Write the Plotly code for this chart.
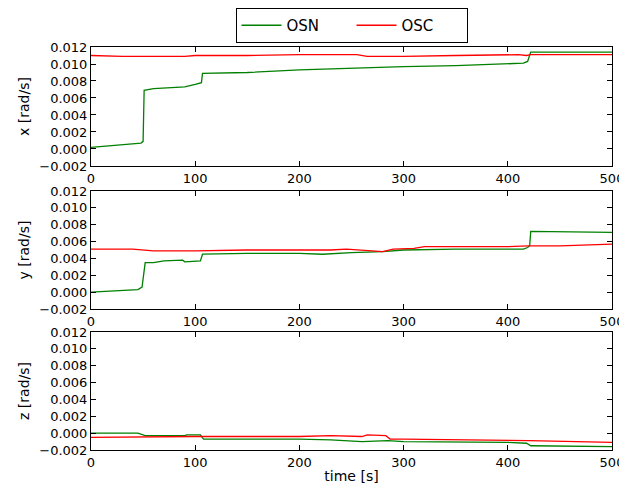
import plotly.graph_objects as go

# ---- data ----
t_osn_x = [0, 10, 30, 48, 50, 51, 60, 80, 90, 100, 104, 106, 107, 150, 200, 250, 300, 350, 400, 415, 419, 421, 422, 460, 500]
v_osn_x = [0.0002, 0.0003, 0.0005, 0.0007, 0.0009, 0.0069, 0.0071, 0.0072, 0.0073, 0.0076, 0.0077, 0.0078, 0.0089, 0.0090, 0.0093, 0.0095, 0.0097, 0.0098, 0.0100, 0.0101, 0.0103, 0.0111, 0.0114, 0.0114, 0.0114]
t_osc_x = [0, 30, 60, 90, 100, 150, 200, 255, 265, 300, 350, 410, 418, 422, 500]
v_osc_x = [0.0110, 0.0109, 0.0109, 0.0109, 0.0110, 0.0110, 0.0111, 0.0111, 0.0109, 0.0109, 0.0110, 0.0111, 0.0110, 0.0111, 0.0111]

t_osn_y = [0, 20, 45, 49, 51, 52, 60, 70, 88, 90, 105, 106, 107, 150, 200, 222, 250, 280, 300, 350, 415, 419, 421, 422, 500]
v_osn_y = [0.0000, 0.0001, 0.0003, 0.0006, 0.0030, 0.0035, 0.0035, 0.0037, 0.0038, 0.0036, 0.0037, 0.0042, 0.0045, 0.0046, 0.0046, 0.0045, 0.0047, 0.0048, 0.0050, 0.0051, 0.0051, 0.0053, 0.0055, 0.0072, 0.0071]
t_osc_y = [0, 40, 60, 100, 150, 200, 230, 245, 260, 270, 280, 290, 310, 320, 400, 420, 450, 500]
v_osc_y = [0.0051, 0.0051, 0.0049, 0.0049, 0.0050, 0.0050, 0.0050, 0.0051, 0.0050, 0.0049, 0.0048, 0.0051, 0.0052, 0.0054, 0.0054, 0.0055, 0.0055, 0.0057]

t_osn_z = [0, 45, 52, 90, 92, 105, 108, 200, 230, 260, 285, 300, 400, 418, 422, 500]
v_osn_z = [0.0000, 0.0000, -0.0003, -0.0003, -0.0002, -0.0002, -0.0007, -0.0007, -0.0008, -0.0010, -0.0009, -0.0010, -0.0011, -0.0012, -0.0015, -0.0016]
t_osc_z = [0, 60, 100, 200, 230, 260, 265, 283, 287, 300, 400, 420, 500]
v_osc_z = [-0.0005, -0.0004, -0.0004, -0.0004, -0.0003, -0.0004, -0.0002, -0.0003, -0.0007, -0.0007, -0.0008, -0.0009, -0.0011]

y_titles = ["x [rad/s]", "y [rad/s]", "z [rad/s]"]
y_ticks = [-0.002, 0.0, 0.002, 0.004, 0.006, 0.008, 0.010, 0.012]
y_ticklabels = ["\u22120.002", "0.000", "0.002", "0.004", "0.006", "0.008", "0.010", "0.012"]
x_ticks = [0, 100, 200, 300, 400, 500]

GREEN = "#008000"
RED = "#ff0000"
FONT = "DejaVu Sans"

series = [
    (t_osn_x, v_osn_x, t_osc_x, v_osc_x),
    (t_osn_y, v_osn_y, t_osc_y, v_osc_y),
    (t_osn_z, v_osn_z, t_osc_z, v_osc_z),
]

fig = go.Figure()
domains = [[0.6776, 0.9204], [0.3857, 0.6265], [0.0980, 0.3388]]

for i, (tn, vn, tc, vc) in enumerate(series):
    ax = "" if i == 0 else str(i + 1)
    fig.add_trace(go.Scatter(x=tn, y=vn, mode="lines", name="OSN", line=dict(color=GREEN, width=1.3),
                             xaxis="x" + ax, yaxis="y" + ax, showlegend=(i == 0)))
    fig.add_trace(go.Scatter(x=tc, y=vc, mode="lines", name="OSC", line=dict(color=RED, width=1.3),
                             xaxis="x" + ax, yaxis="y" + ax, showlegend=(i == 0)))
    common = dict(showline=True, linecolor="black", linewidth=1, mirror="allticks", ticks="inside",
                  ticklen=5, tickcolor="black", showgrid=False, zeroline=False, automargin=False,
                  tickfont=dict(family=FONT, size=13, color="black"))
    xa = dict(common, domain=[0, 1], range=[0, 500], tickvals=x_ticks, anchor="y" + ax)
    if i == 2:
        xa["title"] = dict(text="time [s]", font=dict(family=FONT, size=14, color="black"), standoff=2)
    ya = dict(common, domain=domains[i], range=[-0.002, 0.012], tickvals=y_ticks, ticktext=y_ticklabels,
              anchor="x" + ax, title=dict(text=y_titles[i], font=dict(family=FONT, size=14, color="black"), standoff=6))
    fig.layout["xaxis" + ax] = xa
    fig.layout["yaxis" + ax] = ya

fig.update_layout(
    width=627, height=490,
    margin=dict(l=83, r=23, t=0, b=0),
    paper_bgcolor="white", plot_bgcolor="white",
    font=dict(family=FONT, size=13, color="black"),
    legend=dict(orientation="h", x=0.5, xanchor="center", y=1.0, yanchor="top",
                bordercolor="black", borderwidth=1, bgcolor="white",
                font=dict(family=FONT, size=15, color="black"),
                entrywidth=60, itemwidth=40),
)

fig.write_html("out.html")
